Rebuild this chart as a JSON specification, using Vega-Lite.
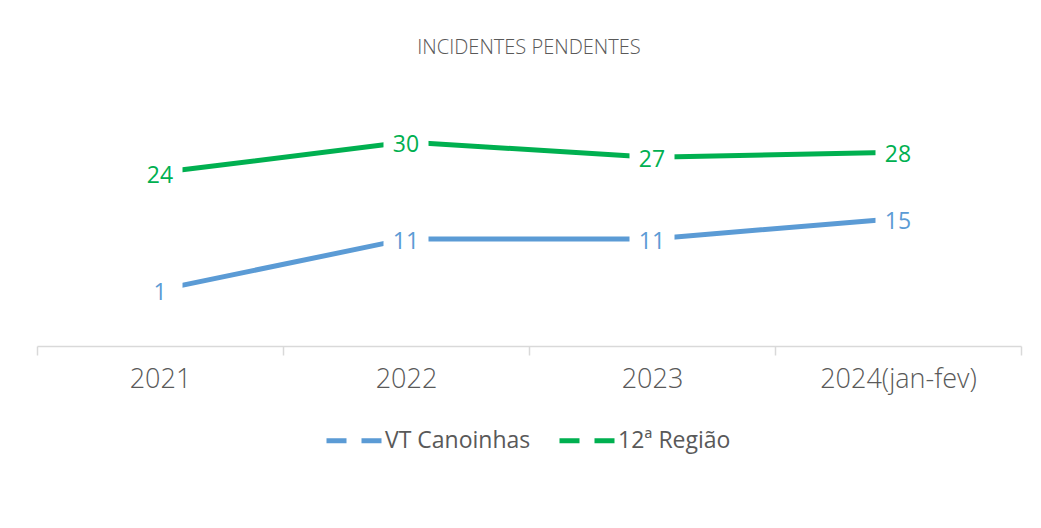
{
  "$schema": "https://vega.github.io/schema/vega-lite/v6.json",
  "autosize": {"type": "none"},
  "width": 984,
  "height": 255,
  "padding": {"left": 37, "top": 91, "right": 20, "bottom": 182},
  "background": "white",
  "config": {
    "view": {"stroke": null},
    "font": "Open Sans",
    "title": {"font": "Open Sans", "fontSize": 20, "fontWeight": 300, "color": "#595959"}
  },
  "title": {"text": "INCIDENTES PENDENTES", "anchor": "middle", "baseline": "alphabetic", "offset": 17},
  "data": {
    "values": [
      {"ano": "2021", "serie": "VT Canoinhas", "valor": 1},
      {"ano": "2022", "serie": "VT Canoinhas", "valor": 11},
      {"ano": "2023", "serie": "VT Canoinhas", "valor": 11},
      {"ano": "2024(jan-fev)", "serie": "VT Canoinhas", "valor": 15},
      {"ano": "2021", "serie": "12ª Região", "valor": 24},
      {"ano": "2022", "serie": "12ª Região", "valor": 30},
      {"ano": "2023", "serie": "12ª Região", "valor": 27},
      {"ano": "2024(jan-fev)", "serie": "12ª Região", "valor": 28}
    ]
  },
  "encoding": {
    "x": {
      "field": "ano",
      "type": "nominal",
      "scale": {"type": "band", "paddingInner": 0, "paddingOuter": 0, "domain": ["2021", "2022", "2023", "2024(jan-fev)"]},
      "axis": {
        "title": null,
        "labelAngle": 0,
        "tickBand": "extent",
        "domainColor": "#d9d9d9",
        "domainWidth": 1.5,
        "tickColor": "#d9d9d9",
        "tickWidth": 1.5,
        "tickSize": 9,
        "labelFont": "Open Sans",
        "labelFontSize": 27,
        "labelFontWeight": 300,
        "labelColor": "#595959",
        "labelPadding": 11,
        "grid": false
      }
    },
    "y": {
      "field": "valor",
      "type": "quantitative",
      "scale": {"domain": [-10, 40], "nice": false, "zero": false},
      "axis": null
    }
  },
  "layer": [
    {
      "mark": {"type": "line", "strokeWidth": 5, "strokeCap": "butt"},
      "encoding": {
        "color": {
          "field": "serie",
          "type": "nominal",
          "scale": {"domain": ["VT Canoinhas", "12ª Região"], "range": ["#5B9BD5", "#00B050"]},
          "legend": {
            "title": null,
            "orient": "none",
            "direction": "horizontal",
            "legendX": 287,
            "legendY": 319,
            "symbolType": "stroke",
            "symbolDash": [20, 15],
            "symbolStrokeWidth": 5,
            "symbolSize": 3136,
            "labelFont": "Open Sans",
            "labelFontSize": 23,
            "labelColor": "#595959",
            "labelOffset": 0,
            "columnPadding": 18,
            "padding": 0
          }
        }
      }
    },
    {
      "mark": {"type": "point", "shape": "square", "filled": true, "color": "white", "opacity": 1, "size": 2025, "strokeWidth": 0}
    },
    {
      "mark": {"type": "text", "fontSize": 23, "fontWeight": 500, "font": "Open Sans", "baseline": "middle", "align": "center", "dy": 3},
      "encoding": {
        "text": {"field": "valor", "type": "quantitative"},
        "color": {"field": "serie", "type": "nominal"}
      }
    }
  ]
}
